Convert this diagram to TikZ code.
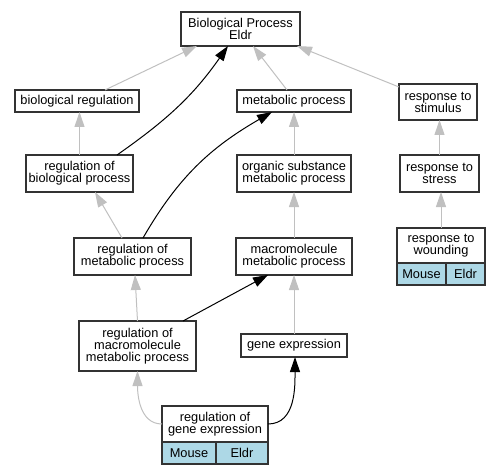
\documentclass[tikz,border=0pt]{standalone}
\usepackage{fontspec}
\setmainfont{Liberation Sans}
\usetikzlibrary{arrows.meta,positioning}
\definecolor{edgegray}{HTML}{C0C0C0}
\definecolor{cellblue}{HTML}{ADD8E6}
\tikzset{
  term/.style={draw=black!80, line width=1.2pt, fill=white, align=center,
    inner sep=0pt, outer sep=0pt, font=\fontsize{12.8}{12}\selectfont},
  cell/.style={term, fill=cellblue, minimum height=22pt},
  isa/.style={edgegray, line width=1pt, -{Triangle[length=15pt,width=10pt]}},
  reg/.style={black, line width=1pt, -{Triangle[length=15pt,width=10pt]}},
}
\begin{document}
\begin{tikzpicture}[x=1pt,y=1pt]
\useasboundingbox (0,0) rectangle (501,475);
% terms
\node[term, minimum width=119pt, minimum height=34pt] (bp) at (240.5,446) {Biological Process\\Eldr};
\node[term, minimum width=124pt, minimum height=22pt] (bioreg) at (77,374) {biological regulation};
\node[term, minimum width=114pt, minimum height=22pt] (metproc) at (294,374) {metabolic process};
\node[term, minimum width=78pt, minimum height=36pt] (respstim) at (438,373) {response to\\stimulus};
\node[term, minimum width=107pt, minimum height=37pt] (regbioproc) at (79.5,301.5) {regulation of\\biological process};
\node[term, minimum width=114pt, minimum height=37pt] (orgsub) at (294,301.5) {organic substance\\metabolic process};
\node[term, minimum width=79pt, minimum height=37pt] (respstress) at (439.5,301.5) {response to\\stress};
\node[term, minimum width=117pt, minimum height=37pt] (regmetproc) at (132.5,218.5) {regulation of\\metabolic process};
\node[term, minimum width=116pt, minimum height=37pt] (macromet) at (294,218.5) {macromolecule\\metabolic process};
\node[term, minimum width=88pt, minimum height=35pt] (respwound) at (441,229.5) {response to\\wounding};
\node[term, minimum width=117pt, minimum height=50pt] (regmacro) at (137.5,129) {regulation of\\macromolecule\\metabolic process};
\node[term, minimum width=106pt, minimum height=23pt] (geneexp) at (294,129.5) {gene expression};
\node[term, minimum width=106pt, minimum height=36pt] (reggene) at (215,51) {regulation of\\gene expression};
% annotation cells
\node[cell, minimum width=49pt, below right=0pt and 0pt of respwound.south west] (woundmouse) {Mouse};
\node[cell, minimum width=39pt, right=0pt of woundmouse] (woundeldr) {Eldr};
\node[cell, minimum width=54pt, below right=0pt and 0pt of reggene.south west] (genemouse) {Mouse};
\node[cell, minimum width=52pt, right=0pt of genemouse] (geneeldr) {Eldr};
% is_a edges
\draw[isa] ([xshift=28pt]bioreg.north) -- ([xshift=-43.5pt]bp.south);
\draw[isa] ([xshift=-7pt]metproc.north) -- ([xshift=12.5pt]bp.south);
\draw[isa] ([yshift=-3pt]respstim.north west) -- ([xshift=-3pt]bp.south east);
\draw[isa] (regbioproc.north) -- (regbioproc.north |- bioreg.south);
\draw[isa] (orgsub) -- (metproc);
\draw[isa] (respstress.north) -- (respstress.north |- respstim.south);
\draw[isa] (respwound.north) -- (respwound.north |- respstress.south);
\draw[isa] ([xshift=-10.5pt]regmetproc.north) -- ([xshift=15.5pt]regbioproc.south);
\draw[isa] (macromet) -- (orgsub);
\draw[isa] (regmacro.north) -- ([xshift=2.5pt]regmetproc.south);
\draw[isa] (geneexp) -- (macromet);
\draw[isa] (reggene.west) to[out=180,in=-90] (regmacro.south);
% regulates edges
\draw[reg] ([xshift=37.5pt]regbioproc.north) to[out=35,in=-125] ([xshift=-12.5pt]bp.south);
\draw[reg] ([xshift=10.5pt]regmetproc.north) to[out=60,in=-150] ([xshift=-22pt]metproc.south);
\draw[reg] ([xshift=45.5pt]regmacro.north) -- ([xshift=-26pt]macromet.south);
\draw[reg] (reggene.east) to[out=0,in=-90] ([xshift=1pt]geneexp.south);
\end{tikzpicture}
\end{document}
